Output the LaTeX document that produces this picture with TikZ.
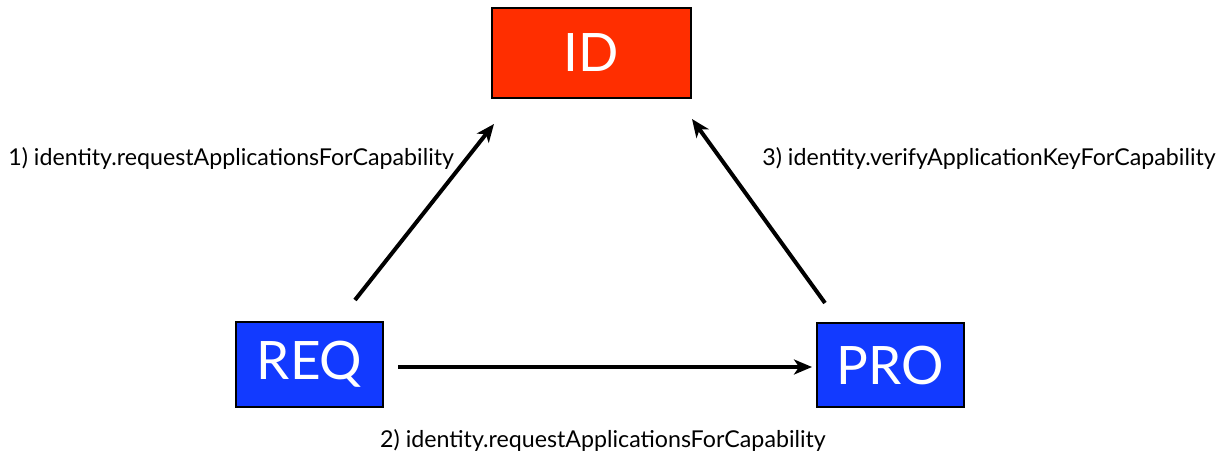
\documentclass[tikz,border=0pt]{standalone}
\usepackage{fontspec}
\setmainfont{Lato}
\usetikzlibrary{arrows.meta}
\definecolor{idred}{RGB}{255,46,0}
\definecolor{roleblue}{RGB}{18,58,255}
\begin{document}
\begin{tikzpicture}[x=0.5pt,y=-0.5pt,
  box/.style={draw=black,line width=1.2pt,text=white,font=\fontsize{26.5}{30}\selectfont,inner sep=0pt},
  flow/.style={line width=2pt,-{Stealth[length=9pt,width=7.5pt,inset=2.5pt]}},
  lbl/.style={font=\fontsize{11.6}{13}\selectfont,inner sep=0pt}]
\useasboundingbox (0,0) rectangle (1222,455);
% role boxes
\node[box,fill=idred,minimum width=99.5pt,minimum height=45pt] (ID) at (591.5,53) {ID};
\node[box,fill=roleblue,minimum width=73.5pt,minimum height=42.5pt] (REQ) at (309.5,364.5) {REQ};
\node[box,fill=roleblue,minimum width=73.5pt,minimum height=42pt] (PRO) at (890.5,365) {PRO};
% arrow end points
\coordinate (r1) at (355,300);
\coordinate (i1) at (494,124);
\coordinate (r2) at (398,367);
\coordinate (p2) at (812,367);
\coordinate (p3) at (825,303);
\coordinate (i3) at (692,119);
\draw[flow] (r1) -- (i1);
\draw[flow] (r2) -- (p2);
\draw[flow] (p3) -- (i3);
% call labels
\node[lbl,anchor=west] (l1) at (8,158) {1) identity.requestApplicationsForCapability};
\node[lbl] (l2) at (603,440) {2) identity.requestApplicationsForCapability};
\node[lbl,anchor=west] (l3) at (762,158) {3) identity.verifyApplicationKeyForCapability};
\end{tikzpicture}
\end{document}
